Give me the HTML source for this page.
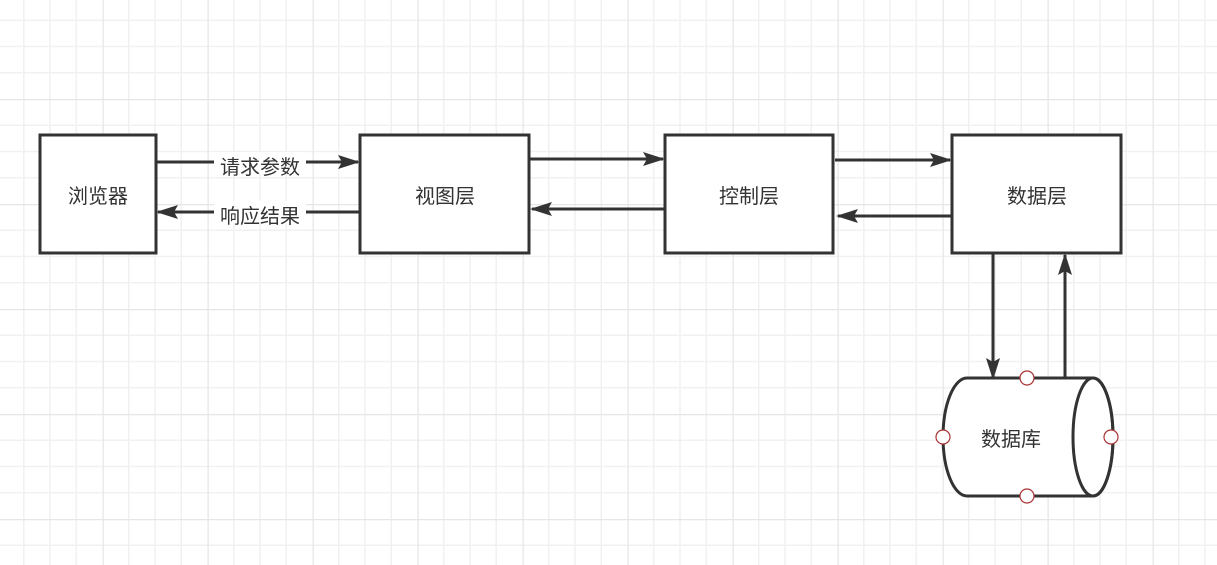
<!DOCTYPE html>
<html><head><meta charset="utf-8"><style>
body{margin:0;background:#fff;}
svg{display:block;}
text{font-family:"Liberation Sans","Noto Sans CJK SC",sans-serif;font-size:20px;fill:#333;}
</style></head><body>
<svg width="1217" height="565" viewBox="0 0 1217 565">
<defs>
<pattern id="g" x="-2.5" y="-6" width="105" height="105" patternUnits="userSpaceOnUse">
<path d="M26.25 0V105M52.5 0V105M78.75 0V105M0 26.25H105M0 52.5H105M0 78.75H105" stroke="#f1f1f1" stroke-width="1.5" fill="none"/>
<path d="M0.5 0V105M0 0.5H105" stroke="#e6e6e6" stroke-width="1.5" fill="none"/>
</pattern>
<marker id="a" markerWidth="22" markerHeight="14" refX="20" refY="7" orient="auto" markerUnits="userSpaceOnUse" viewBox="0 0 22 14">
<path d="M0,0 L22,7 L0,14 L4,7 z" fill="#333"/>
</marker>
</defs>
<rect width="1217" height="565" fill="url(#g)"/>
<g fill="#fff" stroke="#333" stroke-width="3">
<rect x="40" y="135" width="116" height="118"/>
<rect x="360" y="135" width="169" height="118"/>
<rect x="665" y="135" width="168" height="118"/>
<rect x="952" y="135" width="169" height="118"/>
</g>
<g stroke="#333" stroke-width="3" fill="none">
<line x1="156" y1="162" x2="358" y2="162" marker-end="url(#a)"/>
<line x1="360" y1="212" x2="158" y2="212" marker-end="url(#a)"/>
<line x1="530" y1="159" x2="663" y2="159" marker-end="url(#a)"/>
<line x1="665" y1="209" x2="532" y2="209" marker-end="url(#a)"/>
<line x1="835" y1="160" x2="950" y2="160" marker-end="url(#a)"/>
<line x1="952" y1="216" x2="838" y2="216" marker-end="url(#a)"/>
<line x1="993" y1="253" x2="993" y2="378" marker-end="url(#a)"/>
<line x1="1065" y1="378" x2="1065" y2="255" marker-end="url(#a)"/>
</g>
<rect x="214" y="152" width="92" height="22" fill="#fff"/>
<rect x="214" y="201" width="92" height="22" fill="#fff"/>
<text x="260" y="174" text-anchor="middle">请求参数</text>
<text x="260" y="223" text-anchor="middle">响应结果</text>
<text x="98" y="203" text-anchor="middle">浏览器</text>
<text x="445" y="203" text-anchor="middle">视图层</text>
<text x="749" y="203" text-anchor="middle">控制层</text>
<text x="1037" y="203" text-anchor="middle">数据层</text>
<path d="M967 378 H1093 A20 59 0 0 1 1093 496 H967 A24 59 0 0 1 967 378 Z" fill="#fff" stroke="#333" stroke-width="3"/>
<ellipse cx="1093" cy="437" rx="20" ry="59" fill="none" stroke="#333" stroke-width="3"/>
<text x="1011" y="446" text-anchor="middle">数据库</text>
<g fill="#fff" stroke="#a33" stroke-width="1.2">
<circle cx="1027" cy="378" r="7"/>
<circle cx="1027" cy="496" r="7"/>
<circle cx="943" cy="437" r="7"/>
<circle cx="1111" cy="437" r="7"/>
</g>
</svg>
</body></html>
